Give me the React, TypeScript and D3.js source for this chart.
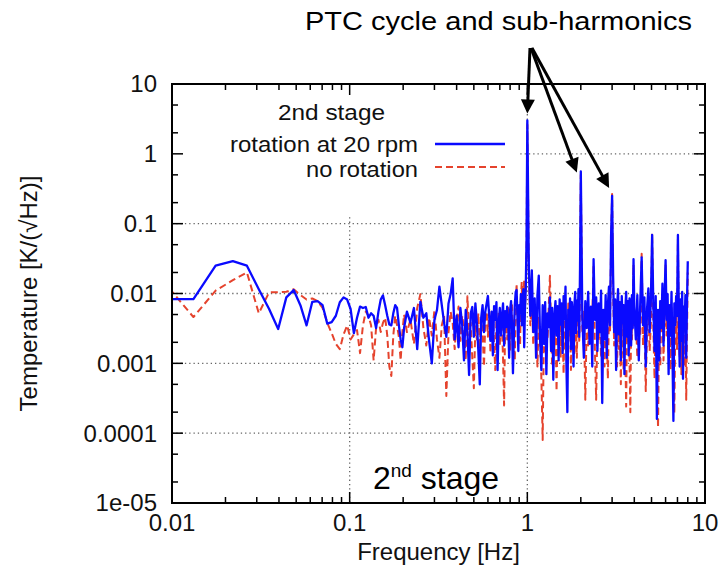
import React from "react";
import * as d3 from "d3";

// Frequency bins [Hz], grouped by band
const freqLow = [
  0.0088, 0.0132, 0.0176, 0.022, 0.0264, 0.0308, 0.0352, 0.0396, 0.044, 0.0484,
  0.0528, 0.0572, 0.0616, 0.066, 0.0704, 0.0748, 0.0792, 0.0836, 0.088, 0.0924,
  0.0968, 0.1012, 0.1056, 0.11, 0.1144, 0.1188, 0.1232, 0.1276, 0.132, 0.1364,
  0.1408, 0.1452, 0.1496, 0.154, 0.1584, 0.1628, 0.1672, 0.1716, 0.176, 0.1804,
  0.1848, 0.1892, 0.1936, 0.198, 0.2024,
];
const freqMid = [
  0.21, 0.22, 0.23, 0.24, 0.25, 0.26, 0.27, 0.28, 0.29, 0.3,
  0.31, 0.32, 0.33, 0.34, 0.35, 0.36, 0.37, 0.38, 0.39, 0.4,
  0.41, 0.42, 0.43, 0.44, 0.45, 0.46, 0.47, 0.48, 0.49, 0.5,
  0.51, 0.52, 0.53, 0.54, 0.55, 0.56, 0.57, 0.58, 0.59, 0.6,
  0.61, 0.62, 0.63, 0.64, 0.65, 0.66, 0.67, 0.68, 0.69, 0.7,
  0.71, 0.72, 0.73, 0.74, 0.75, 0.76, 0.77, 0.78, 0.79, 0.8,
  0.81, 0.82, 0.83, 0.84, 0.85, 0.86, 0.87, 0.88, 0.89, 0.9,
  0.91, 0.92, 0.93, 0.94, 0.95, 0.96, 0.97, 0.98, 0.99,
];
const freqOne = [
  1.0, 1.02, 1.04, 1.06, 1.08, 1.1, 1.12, 1.14, 1.16, 1.18,
  1.2, 1.22, 1.24, 1.26, 1.28, 1.3, 1.32, 1.34, 1.36, 1.38,
  1.4, 1.42, 1.44, 1.46, 1.48, 1.5, 1.52, 1.54, 1.56, 1.58,
  1.6, 1.62, 1.64, 1.66, 1.68, 1.7, 1.72, 1.74, 1.76, 1.78,
  1.8, 1.82, 1.84, 1.86, 1.88, 1.9, 1.92, 1.94, 1.96, 1.98,
  2.0,
];
const freqTwo = [
  2.04, 2.08, 2.12, 2.16, 2.2, 2.24, 2.28, 2.32, 2.36, 2.4,
  2.44, 2.48, 2.52, 2.56, 2.6, 2.64, 2.68, 2.72, 2.76, 2.8,
  2.84, 2.88, 2.92, 2.96, 3.0, 3.04, 3.08, 3.12, 3.16, 3.2,
  3.24, 3.28, 3.32, 3.36, 3.4, 3.44, 3.48, 3.52, 3.56, 3.6,
  3.64, 3.68, 3.72, 3.76, 3.8, 3.84, 3.88, 3.92, 3.96, 4.0,
];
const freqFour = [
  4.08, 4.16, 4.24, 4.32, 4.4, 4.48, 4.56, 4.64, 4.72, 4.8,
  4.88, 4.96, 5.04, 5.12, 5.2, 5.28, 5.36, 5.44, 5.52, 5.6,
  5.68, 5.76, 5.84, 5.92, 6.0, 6.08, 6.16, 6.24, 6.32, 6.4,
  6.48, 6.56, 6.64, 6.72, 6.8, 6.88, 6.96, 7.04, 7.12, 7.2,
  7.28, 7.36, 7.44, 7.52, 7.6, 7.68, 7.76, 7.84, 7.92, 8.0,
];

// Temperature spectral density [K/√Hz], rotation at 20 rpm
const rotLow = [
  0.0083, 0.0083, 0.025, 0.029, 0.025, 0.0115, 0.006, 0.0031, 0.0088, 0.0112,
  0.0068, 0.0035, 0.0076, 0.0078, 0.0068, 0.0037, 0.0039, 0.0048, 0.0075, 0.0088,
  0.0082, 0.006, 0.0027, 0.0045, 0.0065, 0.0062, 0.0064, 0.0045, 0.0052, 0.0048,
  0.0032, 0.0055, 0.0082, 0.0094, 0.0068, 0.0048, 0.0036, 0.0035, 0.0052, 0.0068,
  0.0062, 0.0035, 0.0022, 0.0017, 0.0032,
];
const rotMid = [
  0.0055, 0.0038, 0.0062, 0.0016, 0.0076, 0.0045, 0.0052, 0.0021, 0.001, 0.0042,
  0.0058, 0.0125, 0.0068, 0.0038, 0.0024, 0.0072, 0.0098, 0.0165, 0.0022, 0.0048,
  0.0017, 0.0062, 0.0035, 0.0011, 0.0058, 0.0028, 0.00068, 0.0052, 0.0064, 0.0024,
  0.0072, 0.0038, 0.0015, 0.0005, 0.0045, 0.0068, 0.0028, 0.0055, 0.0072, 0.0092,
  0.0048, 0.0021, 0.0055, 0.0013, 0.0066, 0.0042, 0.0075, 0.0008, 0.0038, 0.0062,
  0.0025, 0.0048, 0.0072, 0.0018, 0.0056, 0.0033, 0.0065, 0.0041, 0.0012, 0.0058,
  0.0078, 0.0035, 0.00072, 0.0025, 0.0068, 0.0105, 0.0112, 0.0045, 0.0015, 0.0068,
  0.0052, 0.0098, 0.0035, 0.0072, 0.0115, 0.0017, 0.0062, 0.012, 0.062,
];
const rotOne = [
  3.0, 0.023, 0.0048, 0.0215, 0.0028, 0.0085, 0.0012, 0.0095, 0.018, 0.0022,
  0.0008, 0.0068, 0.0019, 0.0075, 0.0007, 0.0052, 0.0033, 0.0088, 0.0015, 0.0062,
  0.00058, 0.0048, 0.0078, 0.0025, 0.0066, 0.0011, 0.0082, 0.0036, 0.0072, 0.0014,
  0.0092, 0.0043, 0.0125, 0.0009, 0.0002, 0.0058, 0.0031, 0.0085, 0.0016, 0.0075,
  0.0046, 0.0009, 0.0068, 0.0105, 0.0027, 0.0079, 0.0041, 0.0115, 0.0024, 0.024,
  0.56,
];
const rotTwo = [
  0.0045, 0.0012, 0.0078, 0.0032, 0.0105, 0.0019, 0.0065, 0.0009, 0.031, 0.0042,
  0.0088, 0.0015, 0.0072, 0.0028, 0.011, 0.00027, 0.0058, 0.0022, 0.0095, 0.0012,
  0.0068, 0.0125, 0.0035, 0.065, 0.25, 0.018, 0.0028, 0.0082, 0.0008, 0.0062,
  0.0115, 0.0026, 0.0075, 0.0011, 0.0092, 0.0038, 0.0068, 0.0007, 0.0058, 0.0105,
  0.0024, 0.0078, 0.0013, 0.0085, 0.0045, 0.0018, 0.0095, 0.0032, 0.031, 0.0065,
];
const rotFour = [
  0.0022, 0.0095, 0.0011, 0.0072, 0.033, 0.0035, 0.0088, 0.0009, 0.0062, 0.0118,
  0.0028, 0.0085, 0.069, 0.0065, 0.0015, 0.0092, 0.00016, 0.0058, 0.0011, 0.0078,
  0.0032, 0.0138, 0.0018, 0.0085, 0.03, 0.0042, 0.0098, 0.0007, 0.0068, 0.0025,
  0.0105, 0.0013, 0.00015, 0.0072, 0.0035, 0.0092, 0.0048, 0.069, 0.0058, 0.0009,
  0.0082, 0.0021, 0.0105, 0.0006, 0.0065, 0.0038, 0.0095, 0.0012, 0.0075, 0.029,
];

// Temperature spectral density [K/√Hz], no rotation
const stillLow = [
  0.0157, 0.0046, 0.011, 0.0155, 0.02, 0.0052, 0.0104, 0.0104, 0.0106, 0.0115,
  0.0095, 0.0082, 0.0085, 0.0078, 0.0062, 0.0038, 0.0027, 0.0019, 0.0016, 0.0026,
  0.0035, 0.0022, 0.0026, 0.003, 0.0014, 0.0035, 0.0055, 0.0048, 0.0035, 0.0011,
  0.0032, 0.0042, 0.0028, 0.0038, 0.0045, 0.0025, 0.0009, 0.00066, 0.0025, 0.0048,
  0.0035, 0.0024, 0.0011, 0.0028, 0.005,
];
const stillMid = [
  0.0028, 0.0042, 0.0019, 0.0062, 0.0098, 0.0032, 0.0018, 0.0045, 0.0025, 0.0058,
  0.0022, 0.0012, 0.0035, 0.0048, 0.00034, 0.0028, 0.0055, 0.0038, 0.0016, 0.0042,
  0.0065, 0.0021, 0.0048, 0.0032, 0.0011, 0.0091, 0.0025, 0.0038, 0.0012, 0.00044,
  0.0035, 0.0022, 0.0052, 0.0016, 0.0042, 0.0028, 0.0009, 0.0038, 0.0055, 0.0024,
  0.0062, 0.0014, 0.0035, 0.0048, 0.0019, 0.0008, 0.0042, 0.0028, 0.0056, 0.0018,
  0.0045, 0.0033, 0.0012, 0.00025, 0.0038, 0.0052, 0.0022, 0.0062, 0.0035, 0.0015,
  0.0048, 0.0068, 0.0025, 0.0041, 0.0011, 0.0052, 0.0138, 0.0045, 0.0028, 0.0062,
  0.0018, 0.0085, 0.0146, 0.0042, 0.0095, 0.0155, 0.0058, 0.011, 0.04,
];
const stillOne = [
  2.6, 0.018, 0.0035, 0.0095, 0.0018, 0.0052, 0.0026, 0.0009, 0.0045, 0.0021,
  0.0006, 0.00008, 0.0032, 0.0015, 0.0048, 0.0022, 0.0065, 0.018, 0.0028, 0.0009,
  0.0038, 0.0016, 0.0055, 0.0004, 0.0035, 0.0024, 0.0062, 0.0012, 0.0045, 0.0028,
  0.0007, 0.0052, 0.0019, 0.0038, 0.0011, 0.0072, 0.0025, 0.0048, 0.0008, 0.0042,
  0.0018, 0.0055, 0.0014, 0.0068, 0.0032, 0.0012, 0.0058, 0.0036, 0.0021, 0.012,
  0.5,
];
const stillTwo = [
  0.0028, 0.0055, 0.0003, 0.0042, 0.0018, 0.0062, 0.0024, 0.0045, 0.026, 0.0016,
  0.0003, 0.0038, 0.0021, 0.0058, 0.0012, 0.0035, 0.0048, 0.0009, 0.0042, 0.0025,
  0.0006, 0.0055, 0.0028, 0.05, 0.265, 0.012, 0.0018, 0.0045, 0.0022, 0.0009,
  0.0052, 0.0016, 0.0038, 0.0005, 0.0042, 0.0025, 0.0008, 0.0036, 0.0014, 0.00024,
  0.0045, 0.002, 0.0062, 0.0011, 0.0002, 0.0048, 0.0022, 0.0055, 0.026, 0.0035,
];
const stillFour = [
  0.0045, 0.0012, 0.0052, 0.0025, 0.037, 0.0018, 0.0042, 0.0004, 0.0035, 0.0062,
  0.0015, 0.0038, 0.073, 0.0032, 0.0006, 0.0048, 0.0022, 0.00012, 0.0035, 0.0009,
  0.0055, 0.0078, 0.0011, 0.0042, 0.026, 0.0025, 0.0058, 0.0014, 0.0038, 0.0008,
  0.0062, 0.0019, 0.0045, 0.00019, 0.0028, 0.0052, 0.0016, 0.06, 0.0035, 0.0012,
  0.0048, 0.0007, 0.0055, 0.0022, 0.0038, 0.0009, 0.0045, 0.0003, 0.0025, 0.02,
];

const xTickValues = [0.01, 0.1, 1, 10];
const xTickLabels = ["0.01", "0.1", "1", "10"];
const yTickValues = [10, 1, 0.1, 0.01, 0.001, 0.0001, 0.00001];
const yTickLabels = ["10", "1", "0.1", "0.01", "0.001", "0.0001", "1e-05"];

// PTC fundamental and harmonics pointed at by the annotation arrows
const peakFreqs = [1.0, 2.0, 3.0];
const peakValues = [3.0, 0.56, 0.25];

const freqs = [...freqLow, ...freqMid, ...freqOne, ...freqTwo, ...freqFour];
const rotation = [...rotLow, ...rotMid, ...rotOne, ...rotTwo, ...rotFour];
const noRotation = [...stillLow, ...stillMid, ...stillOne, ...stillTwo, ...stillFour];

const FONT = "'Liberation Sans', Arial, Helvetica, sans-serif";
const BLUE = "#0a0aff";
const RED = "#e5432d";

function Arrow({ x0, y0, x1, y1 }: { x0: number; y0: number; x1: number; y1: number }) {
  const dx = x1 - x0;
  const dy = y1 - y0;
  const len = Math.hypot(dx, dy);
  const ux = dx / len;
  const uy = dy / len;
  const headL = 14;
  const headW = 7;
  const bx = x1 - ux * headL;
  const by = y1 - uy * headL;
  const pts = [
    [x1, y1],
    [bx - uy * headW, by + ux * headW],
    [bx + uy * headW, by - ux * headW],
  ]
    .map((p) => p.join(","))
    .join(" ");
  return (
    <g>
      <line x1={x0} y1={y0} x2={bx + ux * 2} y2={by + uy * 2} stroke="#000" strokeWidth={3} />
      <polygon points={pts} fill="#000" />
    </g>
  );
}

export default function App() {
  const W = 725;
  const H = 578;
  const left = 172;
  const right = 705;
  const top = 84;
  const bottom = 503;

  const x = d3.scaleLog().domain([0.01, 10]).range([left, right]);
  const y = d3.scaleLog().domain([1e-5, 10]).range([bottom, top]);

  const line = d3
    .line<[number, number]>()
    .x((d) => x(d[0]))
    .y((d) => y(d[1]));

  const rotPath = line(freqs.map((f, i) => [f, rotation[i]] as [number, number])) || "";
  const stillPath = line(freqs.map((f, i) => [f, noRotation[i]] as [number, number])) || "";

  const xMinor: number[] = [];
  [0.01, 0.1, 1].forEach((d) => {
    for (let m = 2; m <= 9; m++) xMinor.push(d * m);
  });
  const yMinor: number[] = [];
  [1e-5, 1e-4, 1e-3, 1e-2, 0.1, 1].forEach((d) => {
    [2, 5].forEach((m) => yMinor.push(d * m));
  });
  const xGrid = [0.1, 1];
  const yGrid = [1, 0.1, 0.01, 0.001, 0.0001];

  const gridStyle = { stroke: "#666", strokeWidth: 1.3, strokeDasharray: "1.3,3" };
  const majorLen = 11;
  const minorLen = 6;

  const arrowStart = { x: 530, y: 48 };
  const arrowTips = [
    { x: x(peakFreqs[0]), y: y(peakValues[0]) - 7 },
    { x: x(peakFreqs[1]) - 4, y: y(peakValues[1]) + 1 },
    { x: x(peakFreqs[2]) - 3, y: y(peakValues[2]) - 8 },
  ];

  return (
    <svg
      width={W}
      height={H}
      viewBox={`0 0 ${W} ${H}`}
      style={{ position: "absolute", left: 0, top: 0, background: "#fff" }}
      fontFamily={FONT}
    >
      <rect x={0} y={0} width={W} height={H} fill="#fff" />
      <defs>
        <clipPath id="plotClip">
          <rect x={left} y={top} width={right - left} height={bottom - top} />
        </clipPath>
      </defs>

      {/* grid */}
      {xGrid.map((v) => (
        <line key={"gx" + v} x1={x(v)} x2={x(v)} y1={top} y2={bottom} style={gridStyle} />
      ))}
      {yGrid.map((v) => (
        <line key={"gy" + v} x1={left} x2={right} y1={y(v)} y2={y(v)} style={gridStyle} />
      ))}

      {/* opaque key background */}
      <rect x={left + 1} y={top + 1} width={346} height={130} fill="#fff" />

      {/* spectra */}
      <g clipPath="url(#plotClip)">
        <path d={stillPath} fill="none" stroke={RED} strokeWidth={2} strokeDasharray="7,4" strokeLinejoin="round" />
        <path d={rotPath} fill="none" stroke={BLUE} strokeWidth={2.3} strokeLinejoin="round" />
      </g>

      {/* key */}
      <text x={278} y={120} fontSize={22} textLength={107} lengthAdjust="spacingAndGlyphs" fill="#111">
        2nd stage
      </text>
      <text
        x={418}
        y={151.5}
        fontSize={22}
        textAnchor="end"
        textLength={188}
        lengthAdjust="spacingAndGlyphs"
        fill="#111"
      >
        rotation at 20 rpm
      </text>
      <line x1={435} x2={505} y1={144} y2={144} stroke={BLUE} strokeWidth={2.3} />
      <text
        x={418}
        y={176.5}
        fontSize={22}
        textAnchor="end"
        textLength={112}
        lengthAdjust="spacingAndGlyphs"
        fill="#111"
      >
        no rotation
      </text>
      <line x1={435} x2={505} y1={167} y2={167} stroke={RED} strokeWidth={2} strokeDasharray="7,4" />

      {/* in-plot label */}
      <text x={373} y={489} fontSize={32} fill="#000">
        2<tspan fontSize={19} dy={-12}>nd</tspan>
        <tspan dy={12}> stage</tspan>
      </text>

      {/* ticks */}
      {xTickValues.map((v) => (
        <g key={"xt" + v}>
          <line x1={x(v)} x2={x(v)} y1={bottom} y2={bottom - majorLen} stroke="#000" strokeWidth={1.5} />
          <line x1={x(v)} x2={x(v)} y1={top} y2={top + majorLen} stroke="#000" strokeWidth={1.5} />
        </g>
      ))}
      {xMinor.map((v) => (
        <g key={"xm" + v}>
          <line x1={x(v)} x2={x(v)} y1={bottom} y2={bottom - minorLen} stroke="#000" strokeWidth={1.5} />
          <line x1={x(v)} x2={x(v)} y1={top} y2={top + minorLen} stroke="#000" strokeWidth={1.5} />
        </g>
      ))}
      {yTickValues.map((v) => (
        <g key={"yt" + v}>
          <line x1={left} x2={left + majorLen} y1={y(v)} y2={y(v)} stroke="#000" strokeWidth={1.5} />
          <line x1={right} x2={right - majorLen} y1={y(v)} y2={y(v)} stroke="#000" strokeWidth={1.5} />
        </g>
      ))}
      {yMinor.map((v) => (
        <g key={"ym" + v}>
          <line x1={left} x2={left + minorLen} y1={y(v)} y2={y(v)} stroke="#000" strokeWidth={1.5} />
          <line x1={right} x2={right - minorLen} y1={y(v)} y2={y(v)} stroke="#000" strokeWidth={1.5} />
        </g>
      ))}

      {/* frame */}
      <rect x={left} y={top} width={right - left} height={bottom - top} fill="none" stroke="#000" strokeWidth={2} />

      {/* tick labels */}
      {xTickValues.map((v, i) => (
        <text key={"xl" + v} x={x(v)} y={531} fontSize={24} textAnchor="middle" fill="#111">
          {xTickLabels[i]}
        </text>
      ))}
      {yTickValues.map((v, i) => (
        <text key={"yl" + v} x={157} y={y(v)} dy="0.35em" fontSize={24} textAnchor="end" fill="#111">
          {yTickLabels[i]}
        </text>
      ))}

      {/* axis titles */}
      <text x={(left + right) / 2} y={560} fontSize={24} textAnchor="middle" fill="#111">
        Frequency [Hz]
      </text>
      <text
        transform={`translate(29, ${(top + bottom) / 2}) rotate(-90)`}
        fontSize={24}
        textAnchor="middle"
        dy="0.35em"
        fill="#111"
      >
        Temperature [K/(√Hz)]
      </text>

      {/* annotation */}
      <text
        x={498.5}
        y={30}
        fontSize={25}
        textAnchor="middle"
        textLength={387}
        lengthAdjust="spacingAndGlyphs"
        fill="#000"
      >
        PTC cycle and sub-harmonics
      </text>
      {arrowTips.map((t, i) => (
        <Arrow key={"ar" + i} x0={arrowStart.x + i} y0={arrowStart.y} x1={t.x} y1={t.y} />
      ))}
    </svg>
  );
}
